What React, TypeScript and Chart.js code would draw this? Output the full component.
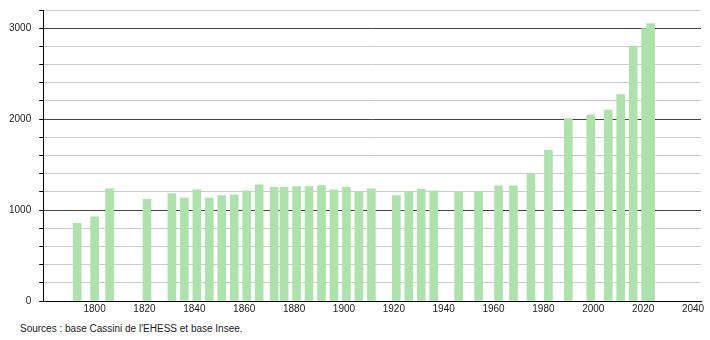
import React, { useEffect, useRef } from "react";
import { Chart, registerables } from "chart.js";

Chart.register(...registerables);

const years = [1793, 1800, 1806, 1821, 1831, 1836, 1841, 1846, 1851, 1856, 1861, 1866, 1872, 1876, 1881, 1886, 1891, 1896, 1901, 1906, 1911, 1921, 1926, 1931, 1936, 1946, 1954, 1962, 1968, 1975, 1982, 1990, 1999, 2006, 2011, 2016, 2021, 2023];
const population = [855, 925, 1233, 1119, 1181, 1133, 1222, 1133, 1159, 1167, 1211, 1278, 1250, 1250, 1259, 1259, 1270, 1222, 1252, 1196, 1233, 1159, 1200, 1232, 1211, 1196, 1204, 1267, 1267, 1396, 1656, 2007, 2048, 2100, 2270, 2804, 2995, 3052];
const xTicks = [1800, 1820, 1840, 1860, 1880, 1900, 1920, 1940, 1960, 1980, 2000, 2020, 2040];
const yLabelled = [0, 1000, 2000, 3000];
const sourceText = "Sources : base Cassini de l'EHESS et base Insee.";

export default function App() {
  const ref = useRef<HTMLCanvasElement | null>(null);

  useEffect(() => {
    if (!ref.current) return;
    const chart = new Chart(ref.current, {
      type: "bar",
      data: {
        datasets: [
          {
            data: years.map((y, i) => ({ x: y, y: population[i] })),
            backgroundColor: "rgb(174,226,172)",
            borderWidth: 0,
            barThickness: 8,
          },
        ],
      },
      options: {
        animation: false,
        responsive: false,
        maintainAspectRatio: false,
        layout: { padding: { left: 1, right: 9, top: 10, bottom: 3 } },
        plugins: { legend: { display: false }, tooltip: { enabled: false }, title: { display: false } },
        scales: {
          x: {
            type: "linear",
            offset: false,
            min: 1779.4,
            max: 2043.2,
            afterBuildTicks: (axis: any) => {
              axis.ticks = xTicks.map((v) => ({ value: v }));
            },
            grid: { display: false, drawTicks: false },
            border: { display: true, color: "#000", width: 1 },
            ticks: {
              color: "#222",
              font: { family: "Liberation Sans", size: 10 },
              padding: 2,
              maxRotation: 0,
              autoSkip: false,
              callback: (v: any) => String(v),
            },
          },
          y: {
            min: 0,
            max: 3200,
            afterFit: (scale: any) => {
              scale.paddingTop = 0;
            },
            ticks: {
              stepSize: 200,
              color: "#222",
              font: { family: "Liberation Sans", size: 10 },
              padding: 8,
              autoSkip: false,
              callback: (v: any) => (yLabelled.includes(Number(v)) ? String(v) : ""),
            },
            grid: {
              color: (ctx: any) => (ctx.tick && ctx.tick.value % 1000 === 0 ? "#444" : "#cccccc"),
              tickColor: "#000",
              tickLength: 4,
              lineWidth: 1,
            },
            border: { display: true, color: "#000", width: 1 },
          },
        },
      },
    });
    return () => chart.destroy();
  }, []);

  return (
    <div style={{ position: "fixed", left: 0, top: 0, width: 710, height: 340, background: "#fff" }}>
      <canvas ref={ref} width={710} height={320} style={{ display: "block" }} />
      <div
        style={{
          position: "absolute",
          left: 20,
          top: 323,
          fontFamily: "Liberation Sans, Arial, sans-serif",
          fontSize: 10,
          color: "#222",
          whiteSpace: "nowrap",
        }}
      >
        {sourceText}
      </div>
    </div>
  );
}
